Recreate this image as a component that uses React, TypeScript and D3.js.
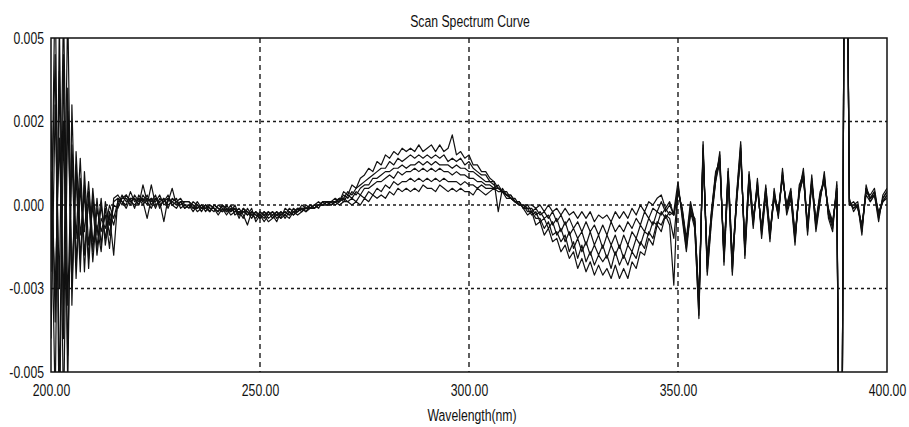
import React, { useEffect, useRef } from 'react';
import * as d3 from 'd3';

const W = 909;
const H = 427;
const PLOT = { left: 51, right: 887, top: 38, bottom: 372 };
const FONT = "'Liberation Sans', Arial, sans-serif";
const FONT_SIZE = 17;
const SQUEEZE = 0.72; // the original uses a tall, narrow UI font

// wavelength grid, nm (1 nm step)
const wavelengths = d3.range(200, 401, 1);

// absorbance difference, in units of 1e-4 (rows of 10 nm)
const scan1 = [
  -20, 70, -60, 45, -55, 30, -18, 8, -20, 4,
  -14, 2, -12, -1, -9, 1, 2, 0, 3, 1,
  2, 0, 6, 1, 2, -1, 2, 1, 3, 0,
  1, 2, 0, 0, -1, 1, -1, 0, -2, 0,
  -1, -2, 0, -2, -1, -3, -1, -2, -4, -2,
  -3, -5, -3, -2, -4, -3, -2, -3, -1, -2,
  -1, -2, 0, -1, 0, 1, 0, 1, 2, 1,
  4, 3, 6, 5, 8, 9, 11, 10, 13, 12,
  15, 14, 16, 15, 17, 16, 17, 16, 18, 16,
  17, 18, 16, 18, 16, 17, 21, 15, 16, 14,
  15, 12, 12, 10, 10, 8, 7, -2, 5, 3,
  3, 1, 1, -1, -3, -2, -6, -5, -9, -7,
  -11, -10, -14, -12, -16, -14, -19, -16, -20, -17,
  -21, -18, -21, -19, -22, -18, -22, -19, -22, -17,
  -19, -14, -15, -10, -12, -6, -8, -3, -6, -24,
  6, -3, -13, -1, -6, -34, 18, -20, -4, 8,
  15, -17, 9, -20, 2, 18, -15, 8, -6, 7,
  -9, 4, -10, 4, -3, 10, -2, 3, -11, 5,
  10, -8, 8, -7, 2, 9, -3, -7, 6, -150,
  150, 1, -1, 0, -8, 5, 2, 4, -4, 2,
  4,
];

const scan2 = [
  10, -60, 55, -40, 35, -25, 12, -16, 6, -19,
  3, -13, 0, -10, -2, -6, 0, 3, 1, 2,
  -1, 3, 1, -4, 2, 1, 3, 0, 1, 5,
  0, 1, 1, 1, 0, -1, 0, -2, 0, -1,
  -2, 0, -1, -3, -2, -1, -3, -6, -2, -3,
  -4, -2, -4, -3, -2, -4, -3, -1, -2, -3,
  -2, 0, -1, 0, 1, 0, 1, 0, 1, 2,
  2, 4, 3, 5, 6, 7, 8, 9, 10, 11,
  11, 13, 12, 14, 13, 14, 15, 14, 15, 14,
  15, 14, 15, 14, 15, 13, 14, 13, 14, 12,
  13, 11, 10, 9, 9, 7, 7, 5, 4, 4,
  2, 2, 0, 0, -2, -2, -4, -4, -7, -5,
  -9, -8, -11, -9, -14, -11, -16, -12, -17, -14,
  -18, -15, -17, -15, -19, -14, -18, -15, -18, -14,
  -16, -11, -13, -8, -10, -5, -6, -3, -4, -10,
  4, -1, -11, -3, -4, -30, 16, -18, -2, 10,
  13, -15, 11, -17, 0, 16, -13, 10, -4, 5,
  -7, 6, -8, 2, -1, 8, 0, 5, -9, 3,
  9, -6, 7, -5, 4, 7, -1, -5, 4, -150,
  150, 0, 1, -1, -6, 3, 1, 3, -2, 1,
  2,
];

const scan3 = [
  -40, 30, -25, 60, -30, 18, -10, 14, -15, 2,
  -17, -1, -8, -3, -13, 2, 3, 1, 0, 4,
  1, 2, 0, 2, 1, 3, -1, 2, 0, 1,
  2, -1, 0, -1, 1, 0, -2, 0, -1, -2,
  0, -1, -3, -1, -2, -2, -4, -1, -3, -4,
  -2, -3, -5, -4, -3, -2, -4, -2, -3, -1,
  -2, -1, 0, -1, 0, 0, 1, 1, 1, 1,
  3, 2, 4, 3, 5, 6, 6, 8, 8, 9,
  10, 10, 11, 11, 12, 11, 12, 12, 13, 12,
  13, 12, 13, 12, 12, 12, 11, 12, 11, 11,
  10, 10, 9, 8, 7, 7, 6, 5, 4, 3,
  3, 1, 1, -1, -1, -3, -2, -5, -4, -7,
  -5, -9, -7, -11, -8, -13, -10, -14, -11, -15,
  -12, -15, -12, -16, -12, -15, -12, -16, -12, -14,
  -10, -12, -8, -9, -5, -6, -2, -4, -2, -3,
  5, -2, -12, 0, -5, -31, 17, -19, -3, 9,
  14, -16, 10, -19, 1, 17, -14, 9, -5, 6,
  -8, 5, -9, 3, -2, 9, -1, 4, -10, 4,
  11, -7, 9, -6, 3, 8, -2, -6, 5, -150,
  150, 0, 0, 1, -7, 4, 3, 5, -3, 1,
  3,
];

const scan4 = [
  25, -35, 40, -65, 28, -22, 9, -20, 10, -12,
  0, -15, -4, -7, 0, -4, 1, 2, 2, 0,
  3, 1, 2, 0, 6, 0, 1, -5, 2, 1,
  0, 1, -1, 0, -2, 0, -1, -1, 0, -1,
  -3, -1, -2, 0, -3, -2, -2, -3, -1, -5,
  -3, -4, -2, -3, -5, -2, -3, -4, -2, -2,
  -1, -2, -1, 0, -1, 1, 1, 0, 1, 2,
  1, 3, 2, 4, 3, 5, 5, 6, 7, 7,
  8, 9, 8, 10, 9, 10, 10, 11, 10, 11,
  10, 11, 10, 11, 10, 10, 9, 10, 9, 9,
  8, 8, 7, 7, 6, 6, 5, 6, 4, 3,
  2, 1, 0, 0, -1, -1, -3, -2, -4, -3,
  -6, -4, -8, -5, -9, -7, -10, -8, -12, -8,
  -12, -9, -13, -9, -12, -9, -13, -9, -12, -8,
  -10, -6, -8, -4, -6, -2, -3, -1, -3, -2,
  7, -4, -14, -2, -7, -33, 19, -21, -5, 7,
  16, -18, 8, -21, 3, 19, -16, 7, -7, 8,
  -10, 3, -11, 5, -4, 11, -3, 2, -12, 6,
  9, -9, 7, -8, 1, 10, -4, -8, 7, -150,
  150, 2, -2, 0, -9, 6, 1, 3, -5, 3,
  5,
];

const scan5 = [
  -10, 45, -70, 25, -45, 15, -22, 5, -8, 7,
  -11, -6, -14, 1, -6, 0, -1, 2, 3, 1,
  0, 2, 1, 3, 0, 2, 1, 2, -1, 2,
  1, 0, 1, 1, -1, -1, 0, -1, -2, 0,
  -1, -2, -1, -2, 0, -3, -2, -2, -3, -2,
  -4, -3, -2, -4, -2, -3, -2, -3, -2, -1,
  -1, -1, -1, 0, 0, 0, 0, 1, 0, 1,
  2, 1, 2, 1, 3, 2, 4, 3, 5, 4,
  6, 5, 7, 6, 7, 7, 8, 7, 8, 7,
  8, 7, 8, 7, 8, 7, 7, 7, 6, 7,
  6, 6, 5, 6, 5, 5, 5, 5, 4, 3,
  2, 1, 0, 0, 0, -2, -1, -3, -2, -4,
  -2, -5, -3, -6, -4, -7, -5, -8, -5, -8,
  -6, -9, -6, -9, -5, -8, -6, -8, -5, -7,
  -4, -6, -2, -4, -1, -2, 1, -2, 0, -3,
  4, -1, -10, 1, -5, -28, 15, -17, -2, 9,
  12, -14, 10, -16, 1, 15, -12, 9, -4, 6,
  -8, 5, -8, 3, -2, 8, 0, 4, -9, 4,
  8, -6, 7, -5, 3, 7, -2, -5, 4, -150,
  150, 0, 0, -1, -6, 4, 2, 3, -3, 1,
  3,
];

const scan6 = [
  5, -25, 20, -30, 60, -30, 16, -9, 3, -16,
  5, -9, 2, -12, -3, -15, 2, 1, -1, 2,
  2, 0, 3, 1, -1, 2, 0, 1, 2, 0,
  -1, 1, -1, 0, 0, -2, -1, 0, -1, -1,
  -2, 0, -2, -1, -1, -4, -1, -3, -2, -3,
  -3, -2, -3, -2, -3, -4, -1, -2, -3, -2,
  0, -1, -1, -1, 0, 0, 0, 0, 1, 0,
  1, 1, 0, 1, 0, 2, 1, 3, 2, 3,
  2, 4, 3, 5, 4, 5, 4, 5, 4, 6,
  5, 5, 4, 6, 5, 4, 5, 4, 5, 4,
  4, 3, 5, 4, 3, 4, 5, 4, 4, 2,
  2, 1, 1, -1, 0, 0, -1, 0, -2, 0,
  -2, -1, -3, -1, -3, -2, -4, -2, -4, -2,
  -5, -3, -4, -3, -5, -2, -4, -2, -4, -1,
  -3, 0, -2, 1, 0, 2, 3, -1, 1, -3,
  5, -2, -11, -2, -4, -29, 16, -16, -3, 7,
  13, -15, 8, -17, 2, 16, -13, 7, -5, 5,
  -7, 4, -9, 2, -3, 9, -1, 3, -10, 4,
  9, -7, 6, -6, 2, 8, -3, -6, 5, -150,
  150, 1, -1, 0, -7, 5, 2, 4, -3, 2,
  4,
];

const SCANS = [scan1, scan2, scan3, scan4, scan5, scan6];
const UNIT = 1e-4;

const xTicks = [200, 250, 300, 350, 400];
const xTickLabels = ['200.00', '250.00', '300.00', '350.00', '400.00'];
const yTicks = [0.005, 0.0025, 0, -0.0025, -0.005];
const yTickLabels = ['0.005', '0.002', '0.000', '-0.003', '-0.005'];

export default function App() {
  const svgRef = useRef<SVGSVGElement>(null);

  useEffect(() => {
    if (!svgRef.current) return;
    const svg = d3.select(svgRef.current);
    svg.selectAll('*').remove();

    const x = d3.scaleLinear().domain([200, 400]).range([PLOT.left, PLOT.right]);
    const y = d3.scaleLinear().domain([-0.005, 0.005]).range([PLOT.bottom, PLOT.top]);

    svg.append('rect').attr('width', W).attr('height', H).attr('fill', '#fff');

    svg.append('defs').append('clipPath').attr('id', 'plot-clip')
      .append('rect')
      .attr('x', PLOT.left).attr('y', PLOT.top)
      .attr('width', PLOT.right - PLOT.left).attr('height', PLOT.bottom - PLOT.top);

    // Grid
    const grid = svg.append('g').attr('stroke', '#1a1a1a').attr('stroke-width', 1.4);
    grid.selectAll('line.h')
      .data(yTicks.slice(1, -1))
      .join('line')
      .attr('x1', PLOT.left).attr('x2', PLOT.right)
      .attr('y1', d => y(d)).attr('y2', d => y(d))
      .attr('stroke-dasharray', '3,3');
    grid.selectAll('line.v')
      .data(xTicks.slice(1, -1))
      .join('line')
      .attr('x1', d => x(d)).attr('x2', d => x(d))
      .attr('y1', PLOT.top).attr('y2', PLOT.bottom)
      .attr('stroke-dasharray', '5,4');

    // Curves
    const line = d3.line<number>()
      .x((_, i) => x(wavelengths[i]))
      .y(d => y(d * UNIT));

    svg.append('g').attr('clip-path', 'url(#plot-clip)')
      .selectAll('path')
      .data(SCANS.map(s => s.slice(0, wavelengths.length)))
      .join('path')
      .attr('d', d => line(d))
      .attr('fill', 'none')
      .attr('stroke', '#111')
      .attr('stroke-width', 1.2)
      .attr('stroke-linejoin', 'round');

    // Frame
    svg.append('rect')
      .attr('x', PLOT.left).attr('y', PLOT.top)
      .attr('width', PLOT.right - PLOT.left).attr('height', PLOT.bottom - PLOT.top)
      .attr('fill', 'none').attr('stroke', '#111').attr('stroke-width', 1.5);

    // Axes (labels narrowed with a horizontal scale)
    svg.append('g').attr('transform', `translate(0,${PLOT.bottom + 9})`)
      .call(d3.axisBottom(x).tickValues(xTicks).tickSize(0)
        .tickFormat((_, i) => xTickLabels[i]))
      .call(a => a.select('.domain').remove())
      .call(a => a.selectAll('text')
        .attr('fill', '#111').attr('font-size', FONT_SIZE).attr('font-family', FONT)
        .attr('transform', `scale(${SQUEEZE},1)`));

    svg.append('g').attr('transform', `translate(${PLOT.left - 4},0)`)
      .call(d3.axisLeft(y).tickValues(yTicks).tickSize(0)
        .tickFormat((_, i) => yTickLabels[i]))
      .call(a => a.select('.domain').remove())
      .call(a => a.selectAll('text')
        .attr('fill', '#111').attr('font-size', FONT_SIZE).attr('font-family', FONT)
        .attr('x', -3 / SQUEEZE)
        .attr('transform', `scale(${SQUEEZE},1)`));

    // Titles
    svg.append('text')
      .attr('transform', `translate(470,27) scale(${SQUEEZE},1)`)
      .attr('text-anchor', 'middle').attr('font-size', FONT_SIZE).attr('font-family', FONT).attr('fill', '#111')
      .text('Scan Spectrum Curve');

    svg.append('text')
      .attr('transform', `translate(472,421) scale(${SQUEEZE},1)`)
      .attr('text-anchor', 'middle').attr('font-size', FONT_SIZE).attr('font-family', FONT).attr('fill', '#111')
      .text('Wavelength(nm)');
  }, []);

  return (
    <div style={{ position: 'absolute', left: 0, top: 0 }}>
      <svg ref={svgRef} width={W} height={H} style={{ display: 'block' }} />
    </div>
  );
}
